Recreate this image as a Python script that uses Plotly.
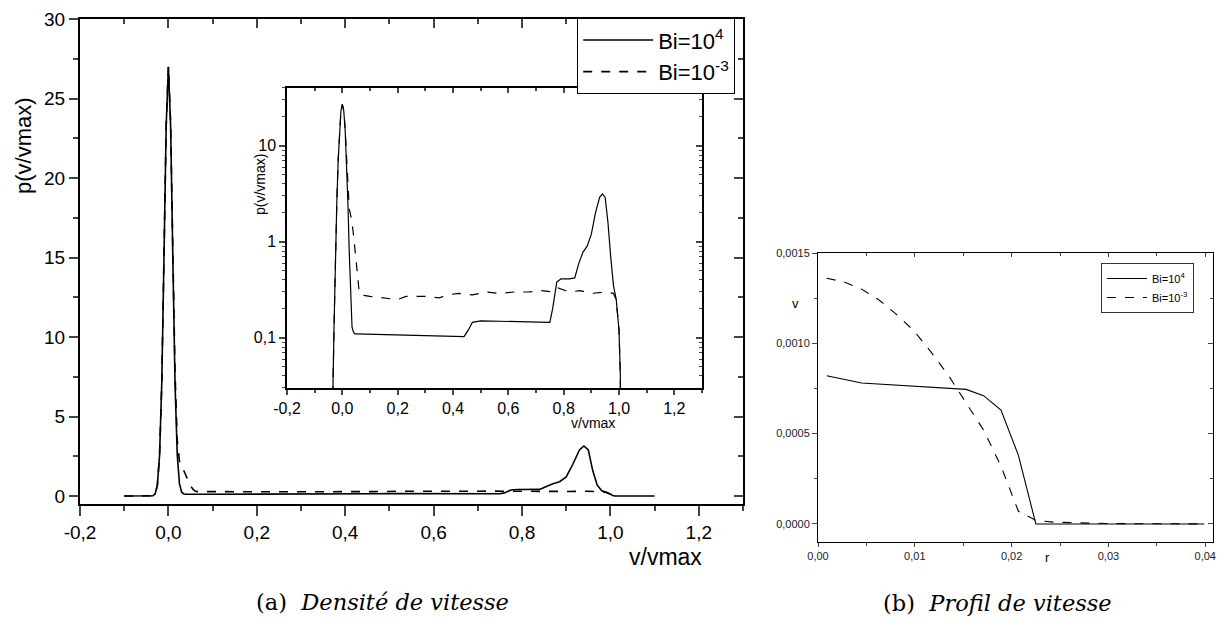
import plotly.graph_objects as go

# ---------------- data: (a) velocity density ----------------
v_bi4 = [-0.10, -0.04, -0.035, -0.03, -0.025, -0.02, -0.015, -0.01, -0.005, 0.0,
         0.005, 0.01, 0.015, 0.02, 0.025, 0.03, 0.035, 0.04, 0.045, 0.05,
         0.1, 0.2, 0.3, 0.4, 0.44, 0.455, 0.47, 0.5, 0.6, 0.7, 0.75, 0.76,
         0.775, 0.79, 0.82, 0.84, 0.855, 0.87, 0.885, 0.9, 0.915, 0.93, 0.94,
         0.95, 0.96, 0.97, 0.98, 0.99, 1.0, 1.005, 1.01, 1.02, 1.05, 1.1]
p_bi4 = [0.0, 0.0, 0.02, 0.13, 0.67, 2.55, 7.1, 15.0, 23.3, 27.0,
         23.3, 15.0, 7.1, 2.6, 0.78, 0.24, 0.13, 0.115, 0.11, 0.11,
         0.109, 0.108, 0.106, 0.104, 0.103, 0.12, 0.145, 0.15, 0.148, 0.146, 0.145, 0.2,
         0.38, 0.41, 0.41, 0.42, 0.6, 0.78, 0.9, 1.2, 2.0, 2.9, 3.15,
         2.9, 1.6, 0.7, 0.35, 0.25, 0.12, 0.04, 0.01, 0.0, 0.0, 0.0]

v_bi3 = [-0.10, -0.04, -0.035, -0.03, -0.025, -0.02, -0.015, -0.01, -0.005, 0.0,
         0.005, 0.01, 0.015, 0.02, 0.025, 0.03, 0.035, 0.04, 0.045, 0.05, 0.055,
         0.06, 0.065, 0.1, 0.15, 0.2, 0.23, 0.3, 0.35, 0.38, 0.42, 0.47, 0.52,
         0.57, 0.62, 0.67, 0.72, 0.76, 0.78, 0.82, 0.86, 0.9, 0.95, 0.98, 0.99,
         1.0, 1.005, 1.01, 1.02]
p_bi3 = [0.0, 0.0, 0.02, 0.13, 0.67, 2.55, 7.1, 15.0, 23.3, 27.0,
         23.5, 15.5, 7.8, 3.5, 2.2, 1.9, 1.6, 1.2, 0.9, 0.65, 0.45,
         0.32, 0.28, 0.27, 0.26, 0.25, 0.27, 0.27, 0.26, 0.28, 0.29, 0.28, 0.30,
         0.29, 0.30, 0.30, 0.31, 0.30, 0.33, 0.30, 0.31, 0.29, 0.30, 0.29, 0.25,
         0.12, 0.04, 0.01, 0.0]

# ---------------- data: (b) velocity profile ----------------
r_bi4 = [0.0009, 0.0045, 0.0153, 0.0171, 0.0189, 0.0207, 0.0225, 0.0243, 0.0399]
u_bi4 = [0.00082, 0.00078, 0.000745, 0.00071, 0.00063, 0.00038, 0.0, 0.0, 0.0]

r_bi3 = [0.0009, 0.0027, 0.0045, 0.0063, 0.0081, 0.0099, 0.0117, 0.0135, 0.0153,
         0.0171, 0.0189, 0.0207, 0.0225, 0.0243, 0.03, 0.0399]
u_bi3 = [0.00136, 0.00134, 0.00130, 0.00124, 0.00116, 0.00107, 0.00095, 0.00082,
         0.00067, 0.00052, 0.00032, 0.00007, 0.00002, 0.00001, 0.000002, 0.0]

# ---------------- tick labels ----------------
vx_ticks = [-0.2, 0.0, 0.2, 0.4, 0.6, 0.8, 1.0, 1.2]
vx_labels = ["-0,2", "0,0", "0,2", "0,4", "0,6", "0,8", "1,0", "1,2"]
py_ticks = [0, 5, 10, 15, 20, 25, 30]
inset_y_ticks = [0.1, 1, 10]
inset_y_labels = ["0,1", "1", "10"]
rx_ticks = [0.0, 0.01, 0.02, 0.03, 0.04]
rx_labels = ["0,00", "0,01", "0,02", "0,03", "0,04"]
uy_ticks = [0.0, 0.0005, 0.0010, 0.0015]
uy_labels = ["0,0000", "0,0005", "0,0010", "0,0015"]

W, H = 1226, 619
SANS = "Liberation Sans, Arial, sans-serif"
SERIF = "DejaVu Serif, serif"


def px(x):
    return x / W


def py(y):
    return 1 - y / H


fig = go.Figure()

# main (a)
fig.add_trace(go.Scatter(x=v_bi4, y=p_bi4, mode="lines", name="Bi=10<sup>4</sup>",
                         line=dict(color="black", width=1.6), xaxis="x", yaxis="y",
                         legend="legend"))
fig.add_trace(go.Scatter(x=v_bi3, y=p_bi3, mode="lines", name="Bi=10<sup>-3</sup>",
                         line=dict(color="black", width=1.6, dash="dash"), xaxis="x", yaxis="y",
                         legend="legend"))
# inset (log)
fig.add_trace(go.Scatter(x=v_bi4, y=p_bi4, mode="lines", showlegend=False,
                         line=dict(color="black", width=1.2), xaxis="x2", yaxis="y2"))
fig.add_trace(go.Scatter(x=v_bi3, y=p_bi3, mode="lines", showlegend=False,
                         line=dict(color="black", width=1.2, dash="dash"), xaxis="x2", yaxis="y2"))
# (b)
fig.add_trace(go.Scatter(x=r_bi4, y=u_bi4, mode="lines", name="Bi=10<sup>4</sup>",
                         line=dict(color="black", width=1.1), xaxis="x3", yaxis="y3",
                         legend="legend2"))
fig.add_trace(go.Scatter(x=r_bi3, y=u_bi3, mode="lines", name="Bi=10<sup>-3</sup>",
                         line=dict(color="black", width=1.1, dash="dash"), xaxis="x3", yaxis="y3",
                         legend="legend2"))

# dummy traces for mirror axes (top/right inside ticks)
for xa, ya in [("x4", "y4"), ("x5", "y5"), ("x6", "y6")]:
    fig.add_trace(go.Scatter(x=[None], y=[None], mode="lines", showlegend=False,
                             hoverinfo="skip", xaxis=xa, yaxis=ya))

main_dom_x = [px(80), px(743)]
main_dom_y = [py(504), py(19)]
ins_dom_x = [px(287), px(702)]
ins_dom_y = [py(388), py(88)]
b_dom_x = [px(818), px(1213)]
b_dom_y = [py(542), py(253)]

main_xr = [-0.2, 1.3]
main_yr = [-0.5, 30]
ins_yr = [-1.523, 1.602]
b_xr = [0.0, 0.0408]
b_yr = [-0.0001, 0.0015]

fig.update_layout(
    width=W, height=H, autosize=False,
    margin=dict(l=0, r=0, t=0, b=0, pad=0, autoexpand=False),
    paper_bgcolor="white", plot_bgcolor="rgba(0,0,0,0)",
    font=dict(family=SANS, color="black"),
    showlegend=True,
    xaxis=dict(domain=main_dom_x, anchor="y", range=main_xr, tickmode="array",
               tickvals=vx_ticks, ticktext=vx_labels, ticks="outside", ticklen=10,
               tickwidth=2, showline=True, linewidth=2, linecolor="black",
               showgrid=False, zeroline=False, tickfont=dict(size=19),
               minor=dict(dtick=0.1, tick0=0, ticks="outside", ticklen=5, tickwidth=2, showgrid=False)),
    yaxis=dict(domain=main_dom_y, anchor="x", range=main_yr, tickmode="array",
               tickvals=py_ticks, ticks="outside", ticklen=9, tickwidth=2,
               showline=True, linewidth=2, linecolor="black", showgrid=False,
               zeroline=False, tickfont=dict(size=19),
               minor=dict(dtick=2.5, tick0=0, ticks="outside", ticklen=5, tickwidth=2, showgrid=False)),
    xaxis4=dict(overlaying="x", side="top", anchor="y", range=main_xr, tickmode="array",
                tickvals=vx_ticks, showticklabels=False, ticks="inside", ticklen=9,
                tickwidth=2, showline=True, linewidth=2, linecolor="black",
                showgrid=False, zeroline=False,
                minor=dict(dtick=0.1, tick0=0, ticks="inside", ticklen=5, tickwidth=2, showgrid=False)),
    yaxis4=dict(overlaying="y", side="right", anchor="x", range=main_yr, tickmode="array",
                tickvals=py_ticks, showticklabels=False, ticks="inside", ticklen=9,
                tickwidth=2, showline=True, linewidth=2, linecolor="black",
                showgrid=False, zeroline=False,
                minor=dict(dtick=2.5, tick0=0, ticks="inside", ticklen=5, tickwidth=2, showgrid=False)),
    # inset
    xaxis2=dict(domain=ins_dom_x, anchor="y2", range=main_xr, tickmode="array",
                tickvals=vx_ticks, ticktext=vx_labels, ticks="outside", ticklen=5,
                tickwidth=1.5, showline=True, linewidth=1.5, linecolor="black",
                showgrid=False, zeroline=False, tickfont=dict(size=16),
                minor=dict(dtick=0.1, tick0=0, ticks="outside", ticklen=3, tickwidth=1.5, showgrid=False)),
    yaxis2=dict(domain=ins_dom_y, anchor="x2", type="log", range=ins_yr, tickmode="array",
                tickvals=inset_y_ticks, ticktext=inset_y_labels, ticks="outside",
                ticklen=6, tickwidth=1.5, showline=True, linewidth=1.5, linecolor="black",
                showgrid=False, zeroline=False, tickfont=dict(size=16),
                minor=dict(dtick="D1", ticks="outside", ticklen=3, tickwidth=1.2, showgrid=False)),
    xaxis5=dict(overlaying="x2", side="top", anchor="y2", range=main_xr, tickmode="array",
                tickvals=vx_ticks, showticklabels=False, ticks="inside", ticklen=5,
                tickwidth=1.5, showline=True, linewidth=1.5, linecolor="black",
                showgrid=False, zeroline=False,
                minor=dict(dtick=0.1, tick0=0, ticks="inside", ticklen=3, tickwidth=1.5, showgrid=False)),
    yaxis5=dict(overlaying="y2", side="right", anchor="x2", type="log", range=ins_yr,
                tickmode="array", tickvals=inset_y_ticks, showticklabels=False,
                ticks="inside", ticklen=6, tickwidth=1.5, showline=True, linewidth=1.5,
                linecolor="black", showgrid=False, zeroline=False,
                minor=dict(dtick="D1", ticks="inside", ticklen=3, tickwidth=1.2, showgrid=False)),
    # (b)
    xaxis3=dict(domain=b_dom_x, anchor="y3", range=b_xr, tickmode="array",
                tickvals=rx_ticks, ticktext=rx_labels, ticks="outside", ticklen=4,
                tickwidth=1, showline=True, linewidth=1, linecolor="black",
                showgrid=False, zeroline=False, tickfont=dict(size=11, color="#222"),
                minor=dict(dtick=0.005, tick0=0, ticks="outside", ticklen=3, tickwidth=1, showgrid=False)),
    yaxis3=dict(domain=b_dom_y, anchor="x3", range=b_yr, tickmode="array",
                tickvals=uy_ticks, ticktext=uy_labels, ticks="outside", ticklen=5,
                tickwidth=1, showline=True, linewidth=1, linecolor="black",
                showgrid=False, zeroline=False, tickfont=dict(size=11, color="#222"),
                minor=dict(dtick=0.00025, tick0=0, ticks="outside", ticklen=3, tickwidth=1, showgrid=False)),
    xaxis6=dict(overlaying="x3", side="top", anchor="y3", range=b_xr, tickmode="array",
                tickvals=rx_ticks, showticklabels=False, ticks="inside", ticklen=4,
                tickwidth=1, showline=True, linewidth=1, linecolor="black",
                showgrid=False, zeroline=False,
                minor=dict(dtick=0.005, tick0=0, ticks="inside", ticklen=3, tickwidth=1, showgrid=False)),
    yaxis6=dict(overlaying="y3", side="right", anchor="x3", range=b_yr, tickmode="array",
                tickvals=uy_ticks, showticklabels=False, ticks="inside", ticklen=5,
                tickwidth=1, showline=True, linewidth=1, linecolor="black",
                showgrid=False, zeroline=False,
                minor=dict(dtick=0.00025, tick0=0, ticks="inside", ticklen=3, tickwidth=1, showgrid=False)),
    legend=dict(x=px(735), y=py(18), xanchor="right", yanchor="top",
                bgcolor="white", bordercolor="black", borderwidth=1.2,
                font=dict(size=22, family=SANS), itemwidth=70, tracegroupgap=0),
    legend2=dict(x=px(1194), y=py(263), xanchor="right", yanchor="top",
                 bgcolor="white", bordercolor="#333", borderwidth=1,
                 font=dict(size=11, family=SANS), itemwidth=40, tracegroupgap=0),
)

annotations = [
    dict(text="p(v/vmax)", x=px(23), y=py(146), textangle=-90, font=dict(size=22)),
    dict(text="v/vmax", x=px(665), y=py(557), font=dict(size=23)),
    dict(text="p(v/vmax)", x=px(260), y=py(185), textangle=-90, font=dict(size=14)),
    dict(text="v/vmax", x=px(593), y=py(423), font=dict(size=14)),
    dict(text="v", x=px(795), y=py(303), font=dict(size=13)),
    dict(text="r", x=px(1047), y=py(557), font=dict(size=13)),
    dict(text="(a)  <i>Densité de vitesse</i>", x=px(382), y=py(602),
         font=dict(size=22.5, family=SERIF)),
    dict(text="(b)  <i>Profil de vitesse</i>", x=px(997), y=py(603),
         font=dict(size=22.5, family=SERIF)),
]
for a in annotations:
    a.update(xref="paper", yref="paper", showarrow=False, xanchor="center", yanchor="middle")
fig.update_layout(annotations=annotations)

fig.write_html("out.html", config={"displayModeBar": False},
               post_script="document.body.style.margin='0';document.body.style.padding='0';")
